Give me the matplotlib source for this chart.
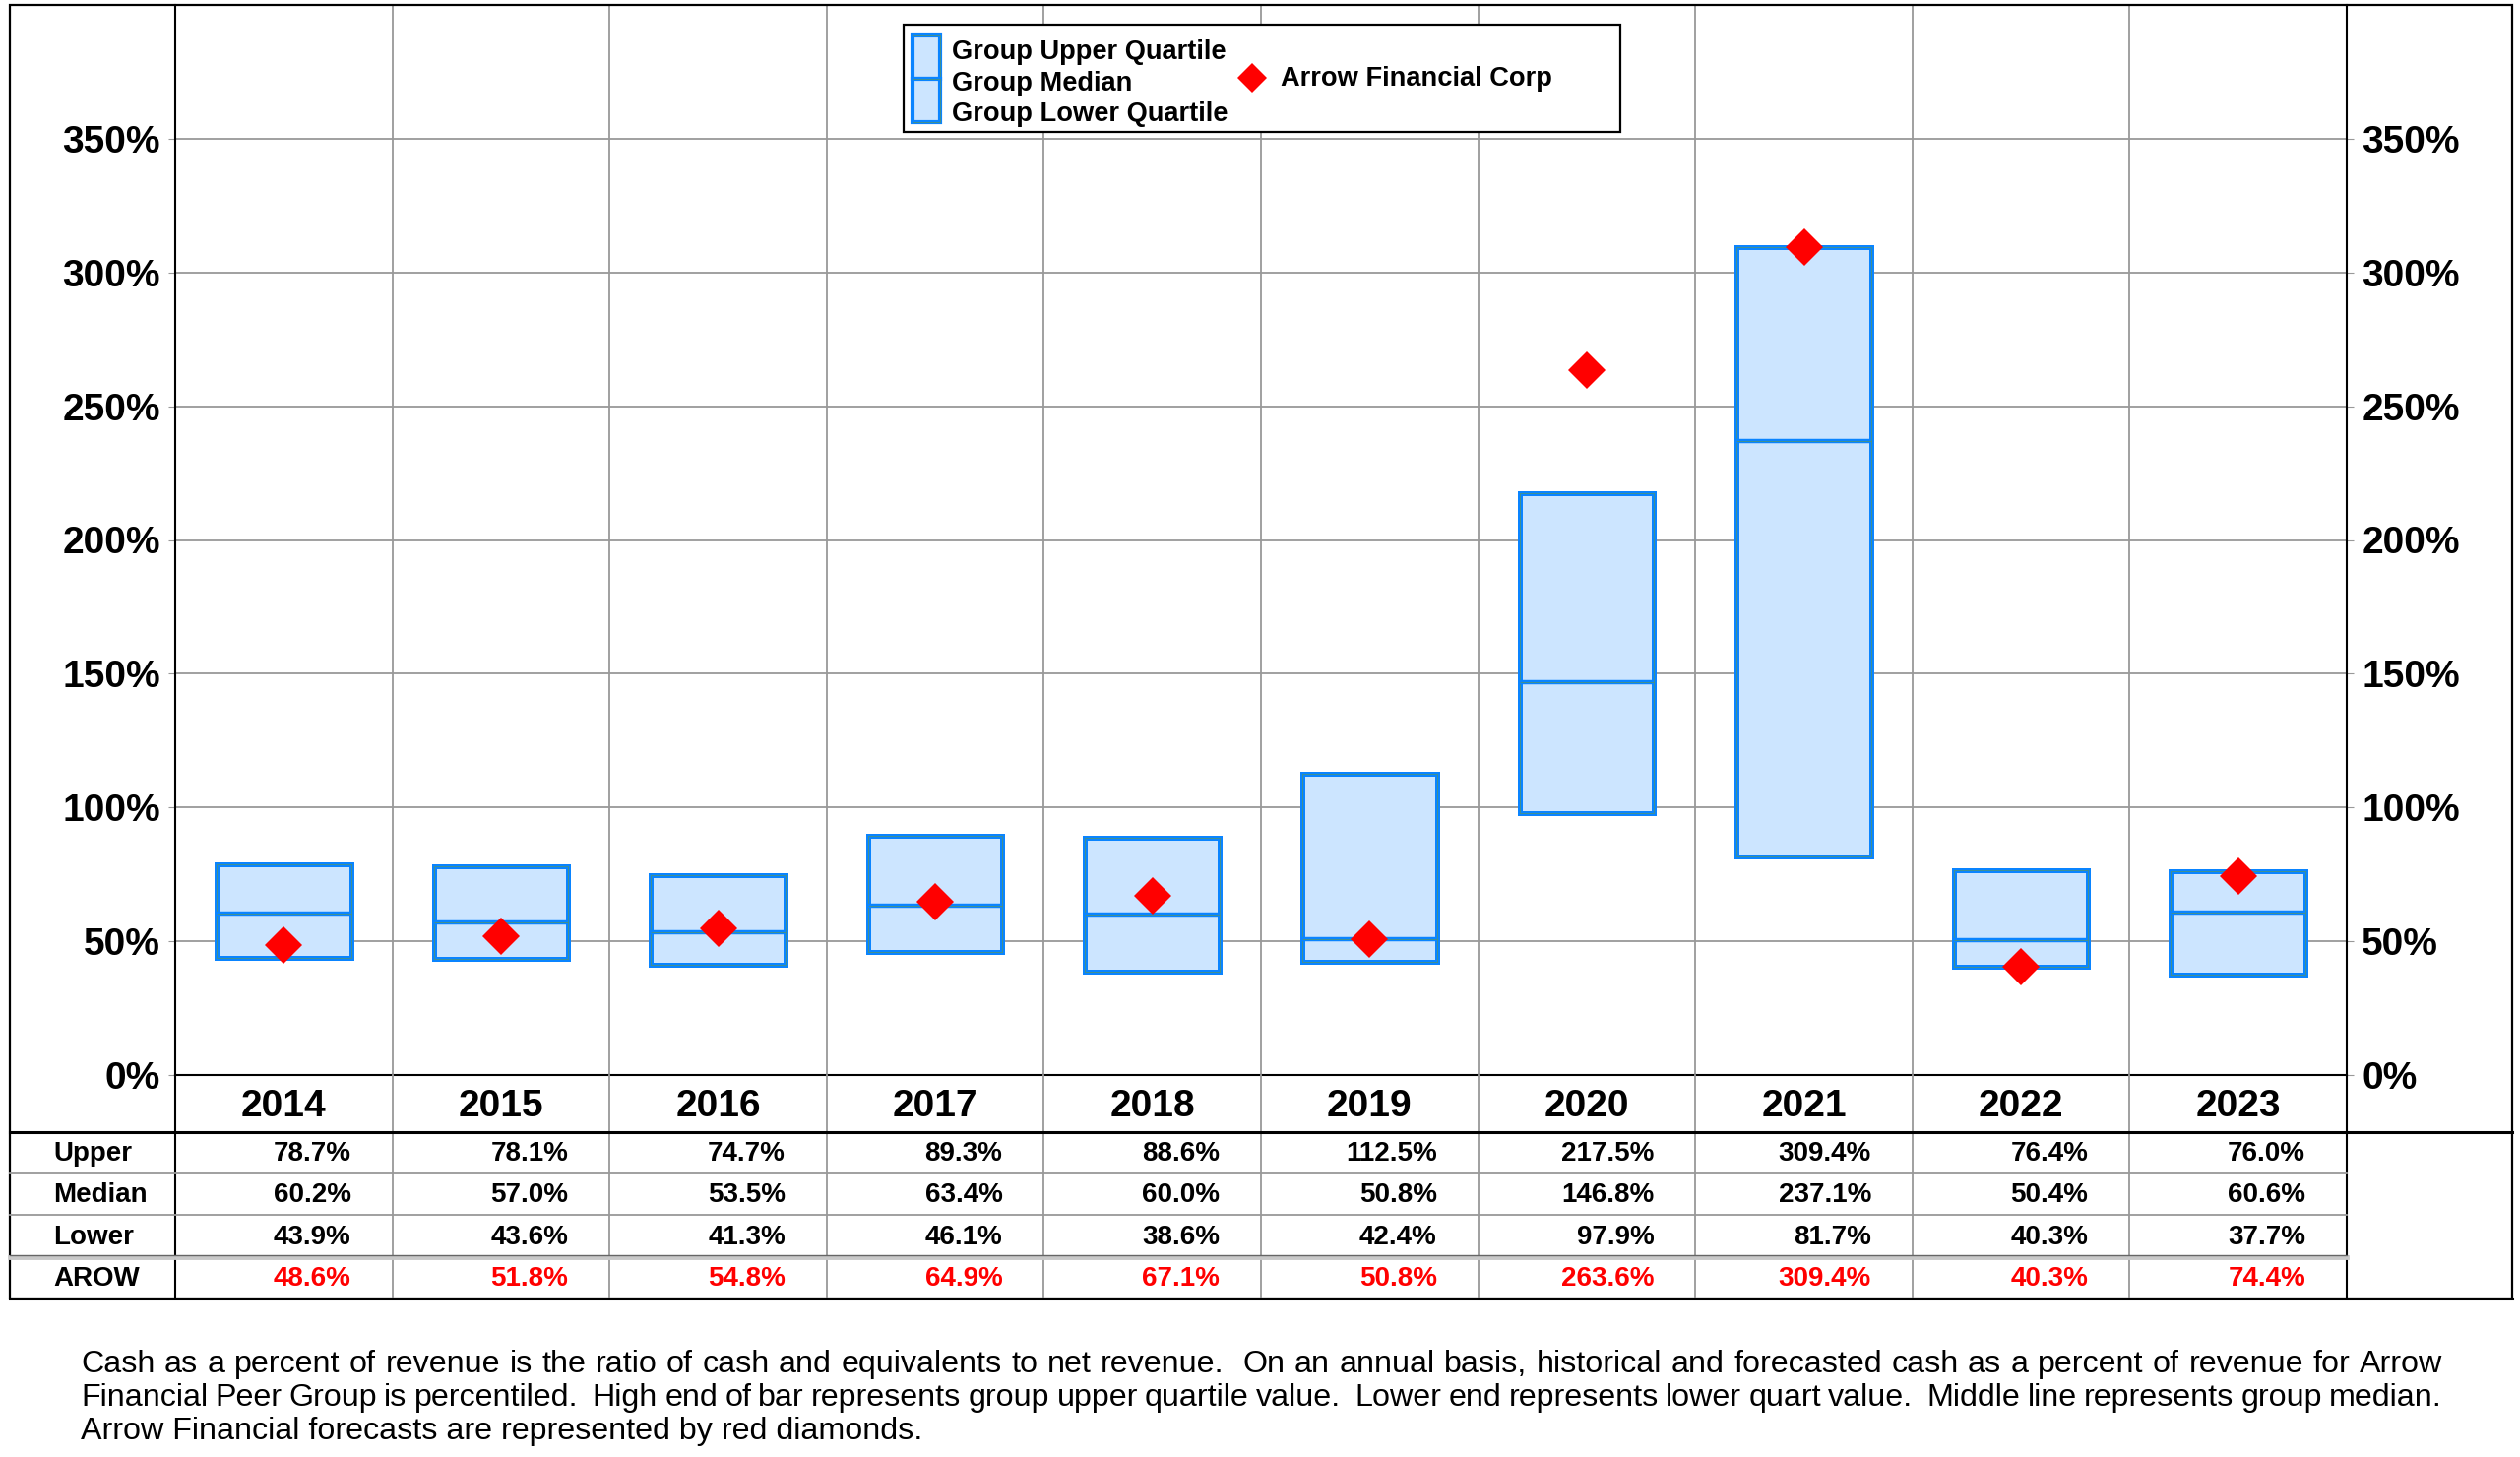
import matplotlib
matplotlib.use('Agg')
import matplotlib.pyplot as plt
from matplotlib.patches import Rectangle
from matplotlib.lines import Line2D
from matplotlib.transforms import blended_transform_factory
import numpy as np

plt.rcParams['font.family'] = ['Liberation Sans', 'DejaVu Sans']

years = ['2014', '2015', '2016', '2017', '2018', '2019', '2020', '2021', '2022', '2023']
upper = [78.7, 78.1, 74.7, 89.3, 88.6, 112.5, 217.5, 309.4, 76.4, 76.0]
median = [60.2, 57.0, 53.5, 63.4, 60.0, 50.8, 146.8, 237.1, 50.4, 60.6]
lower = [43.9, 43.6, 41.3, 46.1, 38.6, 42.4, 97.9, 81.7, 40.3, 37.7]
arow = [48.6, 51.8, 54.8, 64.9, 67.1, 50.8, 263.6, 309.4, 40.3, 74.4]
row_names = ['Upper', 'Median', 'Lower', 'AROW']
yticks = [0, 50, 100, 150, 200, 250, 300, 350]

note_lines = [
    'Cash as a percent of revenue is the ratio of cash and equivalents to net revenue.  On an annual basis, historical and forecasted cash as a percent of revenue for Arrow',
    'Financial Peer Group is percentiled.  High end of bar represents group upper quartile value.  Lower end represents lower quart value.  Middle line represents group median.',
    'Arrow Financial forecasts are represented by red diamonds.',
]

W, H = 2560, 1480
def fx(p): return p / W
def fy(p): return 1 - p / H

BLUE = '#0A84FF'
OLIVE = '#6A9A40'
FILL = '#CCE5FF'
GRID = '#999999'
RED = '#FF0000'

fig = plt.figure(figsize=(25.6, 14.8), dpi=100)
ax = fig.add_axes([fx(178), fy(1092), fx(2384) - fx(178), fy(5) - fy(1092)])

x = np.arange(len(years))
up = np.array(upper); lo = np.array(lower); md = np.array(median)
bw = 0.62

ax.bar(x, up - lo, bottom=lo, width=bw, color=FILL, edgecolor=BLUE, linewidth=3.6, zorder=3)
ax.bar(x, up - lo, bottom=lo, width=bw, color='none', edgecolor=OLIVE, linewidth=0.4, zorder=3)
ax.hlines(md, x - bw / 2, x + bw / 2, color=BLUE, linewidth=3.2, zorder=3)
ax.hlines(md, x - bw / 2, x + bw / 2, color=OLIVE, linewidth=0.4, zorder=3)
ax.plot(x, arow, linestyle='none', marker='D', ms=19, color=RED, markeredgewidth=0, zorder=5)

ax.set_xlim(-0.5, len(years) - 0.5)
ax.set_ylim(0, 400)
ax.set_xticks([])
ax.set_yticks(yticks, [f'{t}%' for t in yticks])
ax.tick_params(axis='y', left=True, right=True, labelleft=True, labelright=True,
               labelsize=28, length=5, color=GRID, pad=6)
for t in ax.yaxis.get_major_ticks():
    t.label1.set_fontweight('bold')
    t.label2.set_fontweight('bold')
ax.yaxis.grid(True, color=GRID, linewidth=1.3)
ax.set_axisbelow(True)
for b in np.arange(0.5, len(years) - 0.5):
    ax.axvline(b, color=GRID, linewidth=1.3, zorder=1)
ax.spines['top'].set_visible(False)
for s in ['left', 'right', 'bottom']:
    ax.spines[s].set_linewidth(1.5)
    ax.spines[s].set_color('black')

# table below the plot
bt = blended_transform_factory(ax.transData, fig.transFigure)
row_edges = [1150, 1192, 1234, 1277, 1319]
for b in np.arange(0.5, len(years) - 0.5):
    fig.add_artist(Line2D([b, b], [fy(1092), fy(1319)], transform=bt, color=GRID, lw=1.3))
for b in [-0.5, len(years) - 0.5]:
    fig.add_artist(Line2D([b, b], [fy(1092), fy(1319)], transform=bt, color='black', lw=1.5))
for r in [1192, 1234]:
    fig.add_artist(Line2D([fx(10), fx(2384)], [fy(r), fy(r)], color=GRID, lw=1.3))
fig.add_artist(Line2D([fx(10), fx(2384)], [fy(1277), fy(1277)], color='#c8c8c8', lw=3.5))
fig.add_artist(Line2D([fx(10), fx(2384)], [fy(1275), fy(1275)], color='#666666', lw=1.0))
for r in [1150, 1319]:
    fig.add_artist(Line2D([fx(10), fx(2552)], [fy(r), fy(r)], color='black', lw=2.2))

# outer frame
fig.add_artist(Rectangle((fx(10), fy(1319)), fx(2552) - fx(10), fy(5) - fy(1319),
                         transform=fig.transFigure, fill=False, ec='black', lw=1.6))

for i, yr in enumerate(years):
    fig.text(i, fy(1124), yr, transform=bt, ha='center', va='center',
             fontsize=28, fontweight='bold')

table_rows = [upper, median, lower, arow]
for j, (name, vals) in enumerate(zip(row_names, table_rows)):
    yc = fy((row_edges[j] + row_edges[j + 1]) / 2 + 1)
    fig.text(fx(54), yc, name, ha='left', va='center', fontsize=20, fontweight='bold')
    col = RED if name == 'AROW' else 'black'
    for i, v in enumerate(vals):
        fig.text(i + 0.31, yc, f'{v:.1f}%', transform=bt, ha='right', va='center',
                 fontsize=20, fontweight='bold', color=col)

# legend
fig.add_artist(Rectangle((fx(918), fy(134)), fx(1646) - fx(918), fy(25) - fy(134),
                         transform=fig.transFigure, fc='white', ec='black', lw=1.6, zorder=10))
for top, bot in [(36, 80), (80, 124)]:
    fig.add_artist(Rectangle((fx(927), fy(bot)), fx(955) - fx(927), fy(top) - fy(bot),
                             transform=fig.transFigure, fc=FILL, ec=BLUE, lw=3.0, zorder=11))
    fig.add_artist(Rectangle((fx(927), fy(bot)), fx(955) - fx(927), fy(top) - fy(bot),
                             transform=fig.transFigure, fc='none', ec=OLIVE, lw=0.4, zorder=11))
for lbl, yy in zip(['Group Upper Quartile', 'Group Median', 'Group Lower Quartile'], [53, 85, 116]):
    fig.text(fx(967), fy(yy), lbl, ha='left', va='center', fontsize=19.6, fontweight='bold', zorder=12)
fig.add_artist(Line2D([fx(1272)], [fy(79)], marker='D', ms=15, color=RED, markeredgewidth=0,
                      linestyle='none', transform=fig.transFigure, zorder=12))
fig.text(fx(1301), fy(80), 'Arrow Financial Corp', ha='left', va='center', fontsize=19.6,
         fontweight='bold', zorder=12)

# footnote, first two lines justified between the margins
renderer = fig.canvas.get_renderer()
note_left, note_right = 82, 2481
for k, line in enumerate(note_lines):
    yy = fy(1386 + 34 * k)
    if k == len(note_lines) - 1:
        fig.text(fx(note_left), yy, line, ha='left', va='center', fontsize=23.2)
        continue
    words = line.split()
    texts = [fig.text(0, yy, w, ha='left', va='center', fontsize=23.2) for w in words]
    widths = [t.get_window_extent(renderer).width for t in texts]
    # sentence ends get a wider gap, like the double spaces in the source
    weights = [2.0 if w.endswith('.') else 1.0 for w in words[:-1]]
    gap = (note_right - note_left - sum(widths)) / sum(weights)
    pos = note_left
    for t, wd, wt in zip(texts, widths, weights + [0]):
        t.set_x(fx(pos))
        pos += wd + gap * wt

fig.savefig('out.png', dpi=100, facecolor='white')
